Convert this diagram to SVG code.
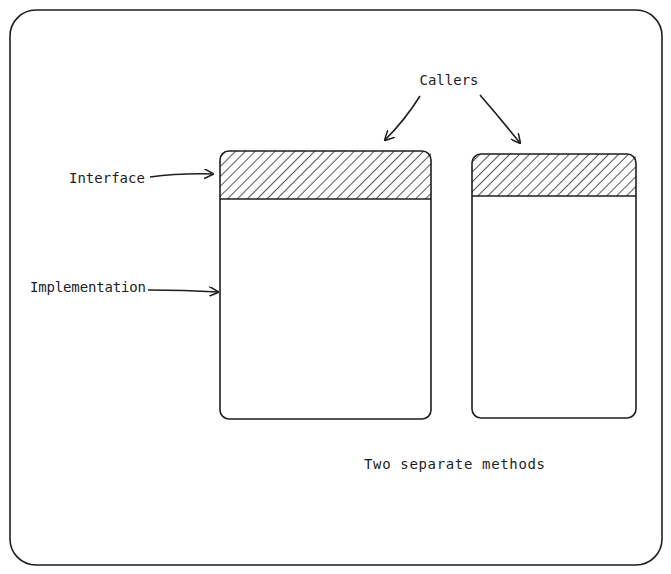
<svg xmlns="http://www.w3.org/2000/svg" width="671" height="574" viewBox="0 0 671 574">
<defs>
<pattern id="h" width="7" height="7" patternUnits="userSpaceOnUse" patternTransform="rotate(45)">
<line x1="0" y1="0" x2="0" y2="7" stroke="#1e1e1e" stroke-width="1.5"/>
</pattern>
<marker id="a" viewBox="0 0 10 10" refX="9" refY="5" markerWidth="10" markerHeight="10" orient="auto" markerUnits="userSpaceOnUse">
<path d="M0,0 L10,5 L0,10" fill="none" stroke="#1e1e1e" stroke-width="1.5"/>
</marker>
</defs>
<style>
.s{fill:none;stroke:#1e1e1e;stroke-width:1.6}
.t{font-family:"DejaVu Sans Mono",monospace;font-size:14px;fill:#1e1e1e}
.c{stroke:#1e1e1e;stroke-width:1.6;fill:none;marker-end:url(#a)}
</style>
<rect width="671" height="574" fill="#fff"/>
<rect x="10" y="10" width="652" height="555" rx="26" class="s"/>
<g id="left">
<rect x="220" y="151" width="211" height="48" fill="url(#h)"/>
<rect x="220" y="151" width="211" height="268" rx="9" class="s"/>
<line x1="220" y1="199" x2="431" y2="199" class="s"/>
</g>
<g id="right">
<rect x="472" y="154" width="164" height="42" fill="url(#h)"/>
<rect x="472" y="154" width="164" height="264" rx="9" class="s"/>
<line x1="472" y1="196" x2="636" y2="196" class="s"/>
</g>
<g id="labels">
<text class="t" x="449" y="85" text-anchor="middle">Callers</text>
<text class="t" x="69" y="183">Interface</text>
<text class="t" x="30" y="292" textLength="116">Implementation</text>
<text class="t" x="364" y="469" textLength="181">Two separate methods</text>
</g>
<g id="connectors">
<path class="c" d="M420,96 Q405,120 385,140"/>
<path class="c" d="M480,95 Q500,118 520,143"/>
<path class="c" d="M150,177 Q180,173 213,174"/>
<path class="c" d="M148,290 Q185,290 218,292"/>
</g>
</svg>
